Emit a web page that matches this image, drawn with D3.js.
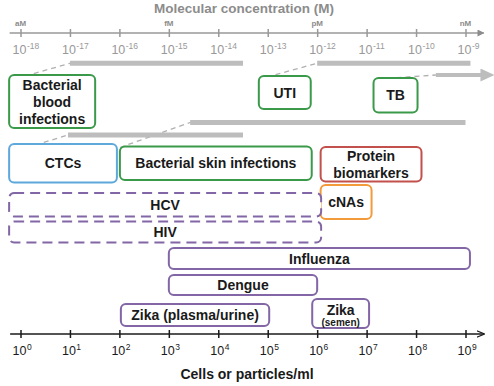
<!DOCTYPE html>
<html>
<head>
<meta charset="utf-8">
<script src="https://cdn.jsdelivr.net/npm/d3@7"></script>
<style>
  body { margin: 0; background: #fff; }
  svg { display: block; font-family: "Liberation Sans", Arial, sans-serif; }
  .boxLabel { font-weight: bold; fill: #1a1a1a; text-anchor: middle; }
</style>
</head>
<body>
<div class="chart"></div>
<script>
// axis ticks (log10 exponents)
const cellExponents = [0, 1, 2, 3, 4, 5, 6, 7, 8, 9]
const molarExponents = [-18, -17, -16, -15, -14, -13, -12, -11, -10, -9]
const unitLabels = ['aM', 'fM', 'pM', 'nM']
const unitExponents = [-18, -15, -12, -9]

// detection ranges, cells or particles/ml (log10)
const targetNames = ['Bacterial blood infections', 'UTI', 'TB', 'CTCs', 'Bacterial skin infections',
    'Protein biomarkers', 'cNAs', 'HCV', 'HIV', 'Influenza', 'Dengue', 'Zika (plasma/urine)', 'Zika (semen)']
const targetLow = [-0.23, 4.82, 7.14, -0.23, 2.01, 6.07, 6.07, -0.23, -0.23, 3.0, 3.0, 2.03, 5.9]
const targetHigh = [1.51, 5.87, 8.03, 1.95, 5.89, 8.11, 7.1, 6.08, 6.08, 9.09, 6.0, 5.03, 7.05]
const targetGroup = ['bacteria', 'bacteria', 'bacteria', 'cells', 'bacteria',
    'protein', 'nucleic', 'virusUncertain', 'virusUncertain', 'virus', 'virus', 'virus', 'virus']

// matching molar ranges (log10 M)
const molarTargets = ['Bacterial blood infections', 'UTI', 'TB', 'Bacterial skin infections', 'CTCs']
const molarLow = [-17.0, -12.0, -9.6, -14.57, -17.04]
const molarHigh = [-13.5, -8.9, -8.67, -9.0, -13.5]

const width = 494, height = 386

const groupColor = {
    bacteria: '#3a9a4a', cells: '#5ea8dc', protein: '#c2504c',
    nucleic: '#f39a3a', virus: '#8266a6', virusUncertain: '#8266a6'
}

// vertical layout of each box: [top, bottom, leader start offset from left edge]
const boxLayout = {
    'Bacterial blood infections': [75, 128, 16],
    'UTI': [76, 109, 8],
    'TB': [78, 112.5, 5],
    'CTCs': [144, 182.5, 26],
    'Bacterial skin infections': [146.5, 180, 0],
    'Protein biomarkers': [147, 181.5],
    'cNAs': [185, 219],
    'HCV': [193, 216.5],
    'HIV': [221.5, 242.5],
    'Influenza': [248, 269],
    'Dengue': [275, 295],
    'Zika (plasma/urine)': [304, 326],
    'Zika (semen)': [299, 328]
}
const barY = {
    'Bacterial blood infections': 63.3, 'UTI': 63.3, 'TB': 75,
    'Bacterial skin infections': 122.5, 'CTCs': 135
}

const xCells = d3.scaleLinear().domain([0, 9]).range([20.5, 465.5])
const xMolar = d3.scaleLinear().domain([-18, -9]).range([20.5, 465.5])

const svg = d3.select('.chart').append('svg')
    .attr('width', width)
    .attr('height', height)

const defs = svg.append('defs')
defs.append('marker').attr('id', 'arrowGrey')
    .attr('viewBox', '0 0 10 10').attr('refX', 9).attr('refY', 5)
    .attr('markerWidth', 7).attr('markerHeight', 7).attr('orient', 'auto')
    .attr('markerUnits', 'userSpaceOnUse')
    .append('path').attr('d', 'M0,0 L10,5 L0,10 Z').attr('fill', '#8c8c8c')
defs.append('marker').attr('id', 'arrowBlack')
    .attr('viewBox', '0 0 10 10').attr('refX', 9).attr('refY', 5)
    .attr('markerWidth', 8).attr('markerHeight', 8).attr('orient', 'auto')
    .attr('markerUnits', 'userSpaceOnUse')
    .append('path').attr('d', 'M0,1 L10,5 L0,9').attr('fill', 'none')
    .attr('stroke', '#1a1a1a').attr('stroke-width', 1.5)
defs.append('marker').attr('id', 'arrowBlock')
    .attr('viewBox', '0 0 10 10').attr('refX', 1).attr('refY', 5)
    .attr('markerWidth', 14).attr('markerHeight', 13).attr('orient', 'auto')
    .attr('markerUnits', 'userSpaceOnUse')
    .attr('preserveAspectRatio', 'none')
    .append('path').attr('d', 'M0,0 L10,5 L0,10 Z').attr('fill', '#bdbdbd')

function drawAxis(scale, exps, y, color, extraDomain) {
    const g = svg.append('g').attr('transform', `translate(0,${y})`)
    g.append('line')
        .attr('x1', scale(extraDomain[0])).attr('x2', scale(extraDomain[1]))
        .attr('stroke', color).attr('stroke-width', 1.5)
        .attr('marker-end', color === '#1a1a1a' ? 'url(#arrowBlack)' : 'url(#arrowGrey)')
    const ax = d3.axisBottom(scale).tickValues(exps).tickSize(8).tickFormat('')
    const axG = g.append('g').attr('transform', 'translate(0,-4)').call(ax)
    axG.select('.domain').remove()
    axG.selectAll('.tick line').attr('stroke', color).attr('stroke-width', 1.5)

    const labels = g.selectAll('text.tickLabel')
        .data(exps)
        .join('text')
        .attr('class', 'tickLabel')
        .attr('x', d => scale(d) - 8)
        .attr('y', 21)
        .attr('fill', color)
        .attr('font-size', 12.5)
    labels.append('tspan').text('10')
    labels.append('tspan').attr('dy', -5).attr('dx', 0.5).attr('font-size', 8.5)
        .text(d => d < 0 ? '-' + Math.abs(d) : d)
    return g
}

// top axis: molecular concentration
svg.append('text')
    .attr('x', 244).attr('y', 13)
    .attr('text-anchor', 'middle')
    .attr('font-weight', 'bold').attr('font-size', 13.5)
    .attr('fill', '#8c8c8c')
    .text('Molecular concentration (M)')

svg.append('g').selectAll('text')
    .data(unitExponents)
    .join('text')
    .attr('x', d => xMolar(d))
    .attr('y', 26)
    .attr('text-anchor', 'middle')
    .attr('font-size', 8).attr('font-weight', 'bold')
    .attr('fill', '#8c8c8c')
    .text((d, i) => unitLabels[i])

drawAxis(xMolar, molarExponents, 33, '#999', [-18.22, -8.63])

// grey bars with dashed leaders
const bars = svg.append('g')
molarTargets.forEach((name, i) => {
    const y = barY[name]
    const lay = boxLayout[name]
    const idx = targetNames.indexOf(name)
    const x0 = xMolar(molarLow[i])
    const isArrow = name === 'TB'
    bars.append('line')
        .attr('x1', x0).attr('x2', xMolar(molarHigh[i]))
        .attr('y1', y).attr('y2', y)
        .attr('stroke', '#bdbdbd').attr('stroke-width', isArrow ? 4 : 5)
        .attr('marker-end', isArrow ? 'url(#arrowBlock)' : null)
    bars.append('line')
        .attr('x1', xCells(targetLow[idx]) + lay[2]).attr('y1', lay[0] + 1)
        .attr('x2', x0).attr('y2', y)
        .attr('stroke', '#b0b0b0').attr('stroke-width', 1.3)
        .attr('stroke-dasharray', '5,4')
})

// target boxes
const boxes = svg.append('g').selectAll('g')
    .data(targetNames)
    .join('g')

boxes.append('rect')
    .attr('x', (d, i) => xCells(targetLow[i]))
    .attr('y', d => boxLayout[d][0])
    .attr('width', (d, i) => xCells(targetHigh[i]) - xCells(targetLow[i]))
    .attr('height', d => boxLayout[d][1] - boxLayout[d][0])
    .attr('rx', 5)
    .attr('fill', '#fff')
    .attr('stroke', (d, i) => groupColor[targetGroup[i]])
    .attr('stroke-width', 2)
    .attr('stroke-dasharray', (d, i) => targetGroup[i] === 'virusUncertain' ? '10,6' : null)

const lineBreaks = {
    'Bacterial blood infections': ['Bacterial', 'blood', 'infections'],
    'Protein biomarkers': ['Protein', 'biomarkers']
}

boxes.each(function (d, i) {
    const g = d3.select(this)
    const cx = (xCells(targetLow[i]) + xCells(targetHigh[i])) / 2
    const [top, bottom] = boxLayout[d]
    const cy = (top + bottom) / 2
    if (d === 'Zika (semen)') {
        g.append('text').attr('class', 'boxLabel').attr('x', cx).attr('y', cy + 1)
            .attr('font-size', 14).text('Zika')
        g.append('text').attr('class', 'boxLabel').attr('x', cx).attr('y', cy + 12)
            .attr('font-size', 10).text('(semen)')
        return
    }
    const lines = lineBreaks[d] || [d]
    const lh = 17
    lines.forEach((t, k) => {
        g.append('text').attr('class', 'boxLabel')
            .attr('x', cx)
            .attr('y', cy + 5 + (k - (lines.length - 1) / 2) * lh)
            .attr('font-size', 14)
            .text(t)
    })
})

// bottom axis: cells or particles/ml
drawAxis(xCells, cellExponents, 334, '#1a1a1a', [-0.21, 9.37])

svg.append('text')
    .attr('x', 247).attr('y', 379)
    .attr('text-anchor', 'middle')
    .attr('font-weight', 'bold').attr('font-size', 14)
    .attr('fill', '#1a1a1a')
    .text('Cells or particles/ml')
</script>
</body>
</html>
